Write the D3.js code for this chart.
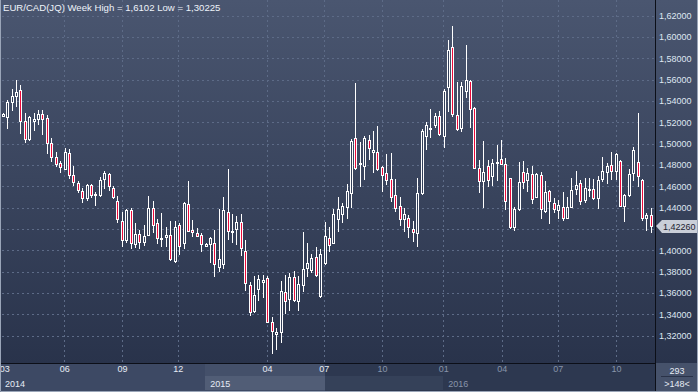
<!DOCTYPE html>
<html>
<head>
<meta charset="utf-8">
<script src="https://cdn.jsdelivr.net/npm/d3@7"></script>
<style>
  body { margin: 0; background: #2c364e; }
  text { font-family: "Liberation Sans", Arial, sans-serif; }
</style>
</head>
<body>
<div id="chart-area"></div>
<script>

// Weekly EUR/CAD bars, oldest first
var open = [
  1.5260,1.5248,1.5388,1.5448,1.5504,1.5210,1.5047,1.5210,1.5235,1.5279,
  1.5238,1.5004,1.4878,1.4817,1.4766,1.4910,1.4704,1.4635,1.4557,1.4491,
  1.4610,1.4524,1.4517,1.4667,1.4713,1.4588,1.4466,1.4278,1.4098,1.4382,
  1.4057,1.4151,1.4082,1.4144,1.4395,1.4254,1.4107,1.4123,1.4142,1.3901,
  1.4235,1.4067,1.4435,1.4191,1.4160,1.4142,1.4044,1.4057,1.4067,1.3847,
  1.3875,1.4360,1.4170,1.4198,1.4266,1.3992,1.3673,1.3435,1.3635,1.3707,
  1.3738,1.3332,1.3213,1.3232,1.3607,1.3542,1.3753,1.3526,1.3676,1.3832,
  1.3816,1.3941,1.3575,1.3885,1.4119,1.4072,1.4297,1.4341,1.4410,1.4541,
  1.5051,1.4813,1.4788,1.5035,1.4925,1.4920,1.4779,1.4723,1.4669,1.4519,
  1.4419,1.4292,1.4301,1.4198,1.4166,1.4541,1.5070,1.5145,1.5173,1.5257,
  1.5070,1.5532,1.5904,1.5269,1.5145,1.5494,1.5588,1.5338,1.4775,1.4651,
  1.4788,1.4698,1.4817,1.4854,1.4807,1.4676,1.4222,1.4388,1.4732,1.4660,
  1.4713,1.4498,1.4704,1.4372,1.4554,1.4442,1.4379,1.4410,1.4307,1.4410,
  1.4578,1.4629,1.4472,1.4563,1.4576,1.4494,1.4672,1.4738,1.4798,1.4747,
  1.4838,1.4416,1.4519,1.4728,1.4832,1.4660,1.4301,1.4329
];
var high = [
  1.5288,1.5410,1.5510,1.5598,1.5551,1.5285,1.5260,1.5285,1.5316,1.5316,
  1.5269,1.5051,1.4925,1.4841,1.4957,1.4948,1.4791,1.4648,1.4582,1.4623,
  1.4623,1.4550,1.4685,1.4744,1.4723,1.4604,1.4510,1.4363,1.4391,1.4398,
  1.4254,1.4191,1.4235,1.4510,1.4463,1.4292,1.4348,1.4217,1.4276,1.4276,
  1.4254,1.4451,1.4651,1.4285,1.4207,1.4166,1.4069,1.4123,1.4191,1.4385,
  1.4501,1.4763,1.4338,1.4323,1.4338,1.4098,1.3707,1.3760,1.3767,1.3769,
  1.3760,1.3378,1.3270,1.3713,1.3769,1.3791,1.3804,1.3760,1.4170,1.4067,
  1.3966,1.4029,1.4010,1.4263,1.4222,1.4385,1.4503,1.4447,1.4623,1.5042,
  1.5567,1.5013,1.5073,1.5082,1.5119,1.5166,1.4791,1.4904,1.4913,1.4669,
  1.4501,1.4400,1.4332,1.4276,1.4676,1.5138,1.5207,1.5323,1.5285,1.5307,
  1.5510,1.5973,1.6102,1.5576,1.5579,1.5926,1.5595,1.5347,1.4848,1.5026,
  1.4848,1.4857,1.4988,1.5035,1.4863,1.4682,1.4404,1.4826,1.4841,1.4770,
  1.4791,1.4728,1.4738,1.4651,1.4566,1.4488,1.4472,1.4548,1.4503,1.4676,
  1.4744,1.4660,1.4676,1.4679,1.4669,1.4700,1.4878,1.4817,1.4925,1.4913,
  1.4848,1.4526,1.4760,1.4972,1.5291,1.4669,1.4348,1.4400
];
var low = [
  1.5251,1.5135,1.5310,1.5342,1.5091,1.5010,1.5028,1.5122,1.5173,1.5085,
  1.4904,1.4832,1.4785,1.4728,1.4754,1.4672,1.4604,1.4541,1.4447,1.4460,
  1.4491,1.4419,1.4503,1.4573,1.4560,1.4479,1.4254,1.4035,1.4072,1.4016,
  1.4020,1.4010,1.4044,1.4135,1.4160,1.4060,1.4035,1.4035,1.3903,1.3885,
  1.3960,1.4010,1.4173,1.4123,1.4123,1.3988,1.4041,1.3885,1.3753,1.3800,
  1.3826,1.4098,1.4067,1.4051,1.3950,1.3622,1.3388,1.3416,1.3528,1.3557,
  1.3317,1.3026,1.3066,1.3129,1.3401,1.3432,1.3519,1.3432,1.3613,1.3748,
  1.3791,1.3748,1.3557,1.3866,1.3988,1.4060,1.4175,1.4260,1.4297,1.4395,
  1.4754,1.4597,1.4660,1.4848,1.4728,1.4747,1.4550,1.4613,1.4454,1.4357,
  1.4232,1.4170,1.4119,1.4076,1.4035,1.4519,1.4944,1.5051,1.5145,1.5070,
  1.4957,1.5300,1.5253,1.5122,1.5113,1.5426,1.5145,1.4763,1.4535,1.4395,
  1.4592,1.4607,1.4653,1.4805,1.4379,1.4201,1.4185,1.4372,1.4576,1.4545,
  1.4435,1.4488,1.4297,1.4348,1.4248,1.4348,1.4294,1.4276,1.4292,1.4395,
  1.4519,1.4426,1.4442,1.4503,1.4472,1.4385,1.4644,1.4623,1.4660,1.4660,
  1.4410,1.4269,1.4503,1.4653,1.4592,1.4278,1.4185,1.4166
];
var close = [
  1.5279,1.5388,1.5448,1.5485,1.5216,1.5047,1.5248,1.5229,1.5279,1.5229,
  1.5004,1.4878,1.4807,1.4785,1.4923,1.4704,1.4638,1.4566,1.4491,1.4613,
  1.4517,1.4529,1.4660,1.4723,1.4604,1.4498,1.4292,1.4098,1.4382,1.4067,
  1.4151,1.4076,1.4138,1.4395,1.4235,1.4116,1.4116,1.4142,1.3919,1.4217,
  1.4044,1.4442,1.4182,1.4170,1.4138,1.4057,1.4060,1.4113,1.3870,1.3917,
  1.4376,1.4179,1.4182,1.4266,1.4020,1.3692,1.3420,1.3579,1.3729,1.3723,
  1.3326,1.3244,1.3238,1.3617,1.3526,1.3753,1.3535,1.3682,1.3828,1.3885,
  1.3926,1.3769,1.3963,1.4135,1.4051,1.4338,1.4385,1.4416,1.4557,1.5026,
  1.4770,1.4822,1.5051,1.4957,1.4941,1.4760,1.4704,1.4657,1.4505,1.4395,
  1.4294,1.4344,1.4217,1.4170,1.4535,1.5119,1.5173,1.5148,1.5257,1.5088,
  1.5494,1.5876,1.5276,1.5138,1.5541,1.5595,1.5323,1.4775,1.4653,1.4738,
  1.4657,1.4822,1.4832,1.4810,1.4466,1.4222,1.4388,1.4638,1.4638,1.4723,
  1.4479,1.4716,1.4385,1.4545,1.4460,1.4385,1.4423,1.4307,1.4410,1.4566,
  1.4610,1.4463,1.4588,1.4576,1.4494,1.4660,1.4744,1.4791,1.4747,1.4904,
  1.4416,1.4519,1.4716,1.4941,1.4698,1.4301,1.4329,1.4226
];

// price axis ticks
var priceTicks = [1.32,1.34,1.36,1.38,1.40,1.42,1.44,1.46,1.48,1.50,1.52,1.54,1.56,1.58,1.60,1.62];

// time axis: bar index where each month line falls, and its label
var monthIdx = [0.2, 13.8, 26.9, 39.6, 59.8, 72.7, 85.9, 99.8, 113.1, 125.8, 139.0];
var monthLabels = ["03","06","09","12","04","07","10","01","04","07","10"];
var yearIdx = [-0.8, 45.8, 99.8];
var yearLabels = ["2014","2015","2016"];

var title = "EUR/CAD(JQ) Week High = 1,6102 Low = 1,30225";

var W = 698, H = 392;
var plotRight = 655, plotBottom = 363;

var bars = open.map(function(o, i) {
    return {i: i, o: o, h: high[i], l: low[i], c: close[i]};
});

var svg = d3.select("#chart-area").append("svg")
    .attr("width", W)
    .attr("height", H);

var defs = svg.append("defs");
var grad = defs.append("linearGradient")
    .attr("id", "bg").attr("x1", 0).attr("y1", 0).attr("x2", 0).attr("y2", 1);
grad.append("stop").attr("offset", "0%").attr("stop-color", "#4a5670");
grad.append("stop").attr("offset", "100%").attr("stop-color", "#29334b");

defs.append("clipPath").attr("id", "plotclip")
  .append("rect").attr("x", 2).attr("y", 0).attr("width", plotRight - 2).attr("height", plotBottom);

// background
svg.append("rect")
    .attr("width", W).attr("height", plotBottom)
    .attr("fill", "url(#bg)");

// Scales
var x = d3.scaleLinear()
    .domain([0, bars.length - 1])
    .range([3.3, 651.3]);

var y = d3.scaleLinear()
    .domain([1.32, 1.62])
    .range([335.7, 15.7]);

function px(i) { return Math.floor(x(i)); }

var plot = svg.append("g").attr("clip-path", "url(#plotclip)");

// grid
plot.selectAll(".hgrid")
    .data(priceTicks)
  .enter().append("line")
    .attr("class", "hgrid")
    .attr("x1", 2).attr("x2", plotRight)
    .attr("y1", function(d) { return Math.round(y(d)) + 0.5; })
    .attr("y2", function(d) { return Math.round(y(d)) + 0.5; })
    .attr("stroke", "#5d6b87")
    .attr("stroke-dasharray", "2,3");

plot.selectAll(".vgrid")
    .data(monthIdx.slice(1))
  .enter().append("line")
    .attr("class", "vgrid")
    .attr("x1", function(d) { return Math.round(x(d)) + 0.5; })
    .attr("x2", function(d) { return Math.round(x(d)) + 0.5; })
    .attr("y1", 0).attr("y2", plotBottom)
    .attr("stroke", "#5d6b87")
    .attr("stroke-dasharray", "2,3");

// candles
var candle = plot.selectAll(".candle")
    .data(bars)
  .enter().append("g")
    .attr("class", "candle")
    .attr("shape-rendering", "crispEdges");

candle.append("line")
    .attr("x1", function(d) { return px(d.i) + 0.5; })
    .attr("x2", function(d) { return px(d.i) + 0.5; })
    .attr("y1", function(d) { return Math.round(y(d.h)); })
    .attr("y2", function(d) { return Math.round(y(d.l)); })
    .attr("stroke", "#ffffff");

candle.append("rect")
    .attr("x", function(d) { return px(d.i) - 0.5; })
    .attr("width", 2)
    .attr("y", function(d) { return Math.round(y(Math.max(d.o, d.c))) + 0.5; })
    .attr("height", function(d) {
        return Math.max(1, Math.round(y(Math.min(d.o, d.c))) - Math.round(y(Math.max(d.o, d.c))));
    })
    .attr("fill", function(d) { return d.c < d.o ? "#ec0a3a" : "#34405a"; })
    .attr("stroke", "#ffffff");

// title
svg.append("text")
    .attr("x", 3).attr("y", 11)
    .attr("font-size", "9.6px")
    .attr("fill", "#eef3fa")
    .text(title);

// last price, its marker hides the tick label it sits on
var last = close[close.length - 1];
var ly = Math.round(y(last));

// price axis
var yAxis = d3.axisRight(y)
    .tickValues(priceTicks.filter(function(d) { return Math.abs(y(d) - ly) > 9; }))
    .tickSize(0)
    .tickPadding(0)
    .tickFormat(function(d) { return d.toFixed(5).replace(".", ","); });

var ya = svg.append("g")
    .attr("transform", "translate(659,0)")
    .call(yAxis);
ya.select(".domain").remove();
ya.selectAll("text")
    .attr("font-family", "Liberation Sans, Arial, sans-serif")
    .attr("font-size", "9px")
    .attr("fill", "#dfe7f2");

// bottom panel
var bottom = svg.append("g");
bottom.append("rect")
    .attr("x", 0).attr("y", plotBottom).attr("width", plotRight).attr("height", H - plotBottom)
    .attr("fill", "#2d3850");
bottom.append("rect")
    .attr("x", 0).attr("y", plotBottom).attr("width", 325).attr("height", H - plotBottom)
    .attr("fill", "#3d4964");
bottom.append("rect")
    .attr("x", Math.round(x(yearIdx[1]))).attr("y", plotBottom).attr("width", 325 - Math.round(x(yearIdx[1]))).attr("height", 13)
    .attr("fill", "#44506a");
bottom.append("rect")
    .attr("x", Math.round(x(yearIdx[1]))).attr("y", 376).attr("width", 325 - Math.round(x(yearIdx[1]))).attr("height", 14)
    .attr("fill", "#515d76");
bottom.append("rect")
    .attr("x", 325).attr("y", 376).attr("width", Math.round(x(yearIdx[2])) - 325).attr("height", 14)
    .attr("fill", "#354159");

var xAxis = d3.axisBottom(x)
    .tickValues(monthIdx)
    .tickSize(0)
    .tickPadding(3)
    .tickFormat(function(d, i) { return monthLabels[i]; });

var xa = bottom.append("g")
    .attr("transform", "translate(0," + plotBottom + ")")
    .call(xAxis);
xa.select(".domain").remove();
xa.selectAll("text")
    .attr("font-family", "Liberation Sans, Arial, sans-serif")
    .attr("font-size", "9px")
    .attr("fill", function(d) { return x(d) > 330 ? "#8894aa" : "#e6ecf5"; });

bottom.selectAll(".year")
    .data(yearIdx)
  .enter().append("text")
    .attr("class", "year")
    .attr("x", function(d) { return Math.max(0, x(d)) + 5; })
    .attr("y", 387)
    .attr("font-size", "9px")
    .attr("fill", function(d, i) { return i == 2 ? "#8894aa" : "#e6ecf5"; })
    .text(function(d, i) { return yearLabels[i]; });

// right bottom box
svg.append("rect")
    .attr("x", plotRight).attr("y", plotBottom).attr("width", W - plotRight).attr("height", H - plotBottom)
    .attr("fill", "#46526b");
svg.append("line")
    .attr("x1", 661).attr("x2", 693).attr("y1", 376.5).attr("y2", 376.5)
    .attr("stroke", "#2a3349");
svg.append("text")
    .attr("x", 677).attr("y", 374).attr("text-anchor", "middle")
    .attr("font-size", "9px").attr("fill", "#e6ecf5")
    .text("293");
svg.append("text")
    .attr("x", 677).attr("y", 387).attr("text-anchor", "middle")
    .attr("font-size", "9px").attr("fill", "#e6ecf5")
    .text(">148<");

// last price marker
svg.append("path")
    .attr("d", "M656," + ly + " L662," + (ly - 6) + " L697," + (ly - 6) + " L697," + (ly + 7) + " L662," + (ly + 7) + " Z")
    .attr("fill", "#c9ced8");
svg.append("text")
    .attr("x", 663).attr("y", ly + 4)
    .attr("font-size", "9px").attr("fill", "#1c2130")
    .text(last.toFixed(5).replace(".", ","));

// separators and frame
svg.append("line")
    .attr("x1", plotRight + 0.5).attr("x2", plotRight + 0.5).attr("y1", 0).attr("y2", H)
    .attr("stroke", "#0c0f18");
svg.append("line")
    .attr("x1", 0).attr("x2", plotRight).attr("y1", plotBottom + 0.5).attr("y2", plotBottom + 0.5)
    .attr("stroke", "#0c0f18");
svg.append("path")
    .attr("d", "M0.5,0 V" + (H - 0.5) + " H" + (W - 0.5) + " V0")
    .attr("fill", "none")
    .attr("stroke", "#9aa5b8");

</script>
